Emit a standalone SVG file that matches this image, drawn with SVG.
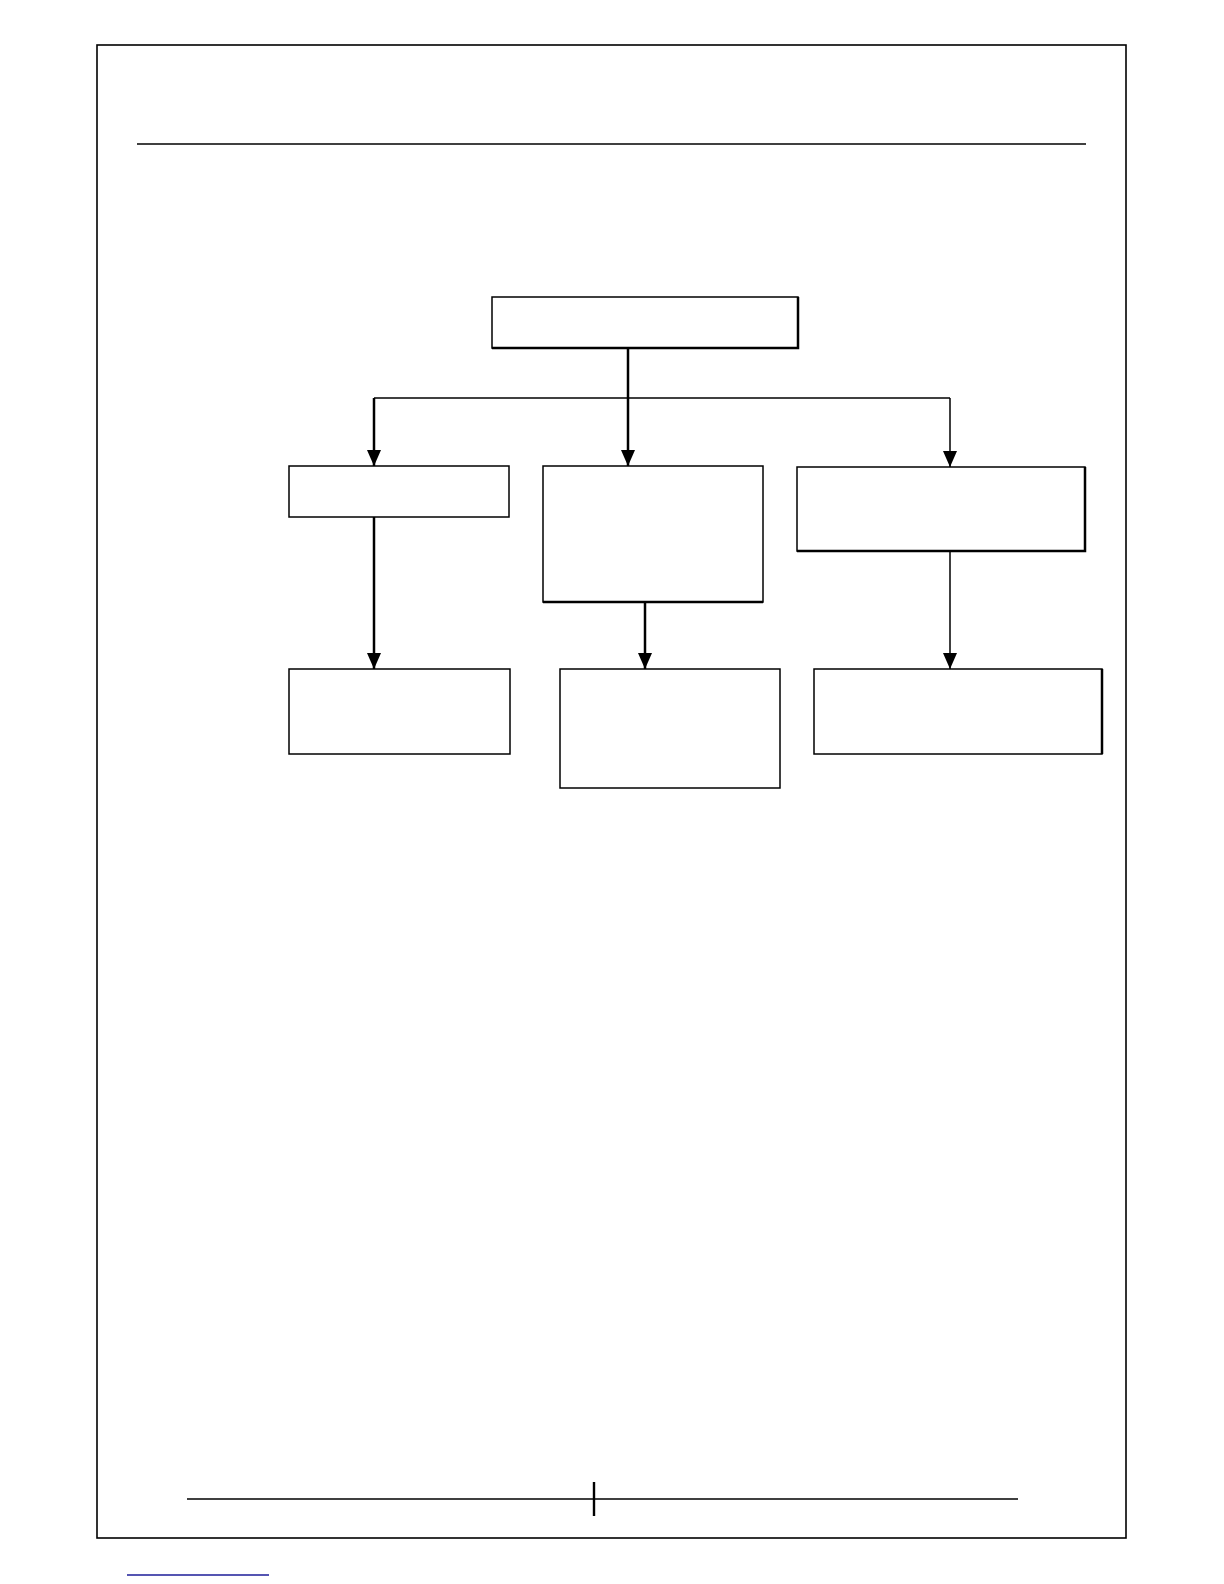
<svg xmlns="http://www.w3.org/2000/svg" width="1224" height="1584" viewBox="0 0 1224 1584">
<style>
.box{fill:#ffffff;stroke:#000;stroke-width:1.5}
.edge{fill:none;stroke:#000;stroke-width:2.5}
.frame{fill:none;stroke:#000;stroke-width:1.6}
.rule{stroke:#000;stroke-width:1.5;fill:none}
.thin{stroke:#000;stroke-width:1.5;fill:none}
.thick{stroke:#000;stroke-width:2.5;fill:none}
</style>
<defs>
<marker id="down" markerUnits="userSpaceOnUse" markerWidth="16" markerHeight="18" viewBox="0 0 16 18" refX="8" refY="17" orient="0">
<path d="M1,1 L15,1 L8,17 Z" fill="#000"/>
</marker>
</defs>
<rect width="1224" height="1584" fill="#fff"/>
<g id="page">
<rect class="frame" x="97" y="45" width="1029" height="1493"/>
<line class="rule" x1="137" y1="144" x2="1086" y2="144"/>
<line class="rule" x1="187" y1="1499" x2="1018" y2="1499"/>
<line x1="594" y1="1482" x2="594" y2="1516" stroke="#000" stroke-width="2.4"/>
<line x1="127" y1="1575" x2="269" y2="1575" stroke="#1c1c99" stroke-width="1.4"/>
</g>
<g id="connectors">
<line class="thick" x1="628" y1="348" x2="628" y2="466" marker-end="url(#down)"/>
<polyline class="thin" points="374,398 950,398"/>
<line class="thick" x1="374" y1="398" x2="374" y2="466" marker-end="url(#down)"/>
<line class="thin" x1="950" y1="398" x2="950" y2="467" marker-end="url(#down)"/>
<line class="thick" x1="374" y1="517" x2="374" y2="669" marker-end="url(#down)"/>
<line class="thick" x1="645" y1="602" x2="645" y2="669" marker-end="url(#down)"/>
<line class="thin" x1="950" y1="551" x2="950" y2="669" marker-end="url(#down)"/>
</g>
<g id="node-top">
<rect class="box" x="492" y="297" width="306" height="51"/>
<path class="edge" d="M492,348 H798 V297"/>
</g>
<g id="node-left">
<rect class="box" x="289" y="466" width="220" height="51"/>
</g>
<g id="node-middle">
<rect class="box" x="543" y="466" width="220" height="136"/>
<path class="edge" d="M543,602 H763"/>
</g>
<g id="node-right">
<rect class="box" x="797" y="467" width="288" height="84"/>
<path class="edge" d="M797,551 H1085 V467"/>
</g>
<g id="node-left-bottom">
<rect class="box" x="289" y="669" width="221" height="85"/>
</g>
<g id="node-middle-bottom">
<rect class="box" x="560" y="669" width="220" height="119"/>
</g>
<g id="node-right-bottom">
<rect class="box" x="814" y="669" width="288" height="85"/>
<path class="edge" d="M1102,669 V754"/>
</g>
</svg>
